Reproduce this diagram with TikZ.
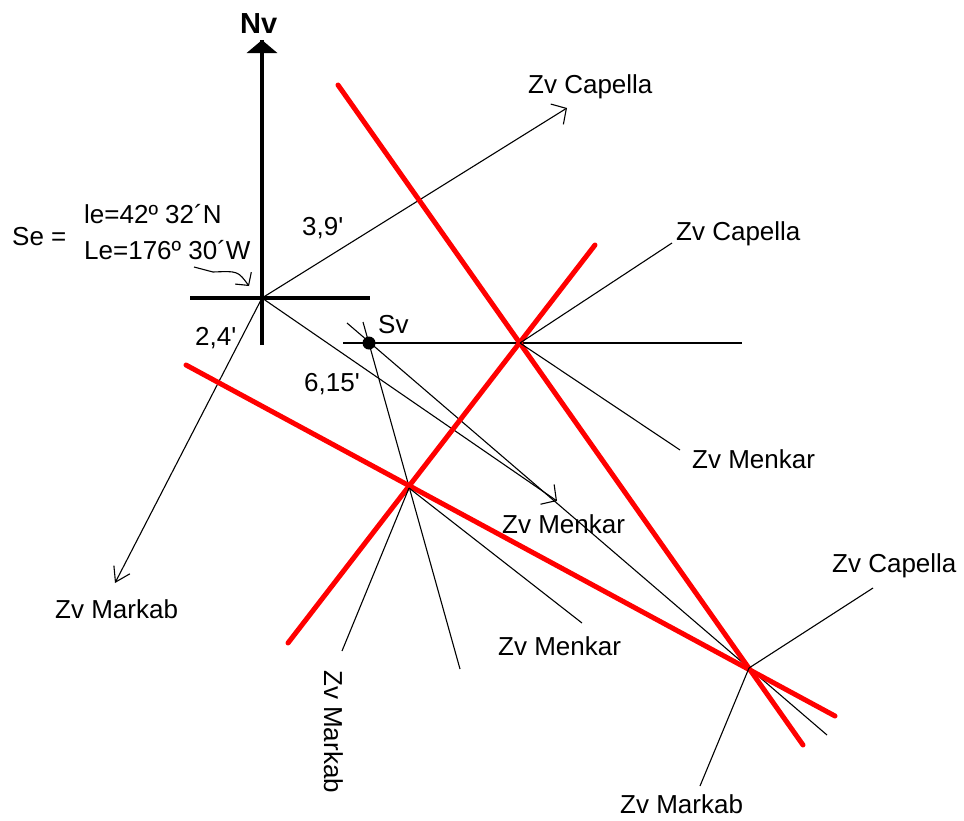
\documentclass[tikz,border=0pt]{standalone}
\usepackage{fontspec}
\setmainfont{Liberation Sans}
\usetikzlibrary{arrows.meta}

\begin{document}
\begin{tikzpicture}
  [x=1pt,y=-1pt,line join=round,
   every node/.style={font=\fontsize{26}{28}\selectfont,inner sep=0pt,anchor=base west},
   fine/.style={line width=1.1pt},
   axis/.style={line width=4pt},
   lop/.style={red,line width=5pt,line cap=round},
   barb/.style={fine,arrows={-{Straight Barb[length=11pt,width=24pt]}}}]
  \useasboundingbox[fill=white] (0,0) rectangle (964,820);

  % estimated position and the star directions from it
  \coordinate (se) at (262,298);
  \coordinate (nv) at (262,40);
  \coordinate (sb) at (262,345);
  \coordinate (sw) at (190,298);
  \coordinate (sf) at (370,298);
  \coordinate (cap) at (567,108);
  \coordinate (men) at (557,501);
  \coordinate (mar) at (115,583);

  \draw[axis] (sb) -- (nv);
  \draw[line width=4pt,arrows={-{Triangle[width=30pt,length=13pt]}}] (se) -- (nv);
  \draw[axis] (sw) -- (sf);
  \draw[barb] (se) to (cap);
  \draw[barb] (se) to (men);
  \draw[fine,arrows={-{Straight Barb[length=14pt,width=18pt]}}] (se) to (mar);

  \coordinate (ara) at (194,267);
  \coordinate (arb) at (213,272);
  \coordinate (arc) at (249,286);
  \draw[fine,arrows={-{Straight Barb[length=9pt,width=20pt]}}] (ara) -- (arb) .. controls (238,271) .. (arc);

  % observed position
  \coordinate (sv) at (369,343);
  \coordinate (hw) at (343,343);
  \coordinate (he) at (742,343);
  \coordinate (sva) at (347,323);
  \coordinate (svb) at (827,735);
  \coordinate (svc) at (363,322);
  \coordinate (svd) at (460,669);
  \draw[fine] (hw) -- (he);
  \draw[fine] (sva) -- (svb);
  \draw[fine] (svc) -- (svd);
  \fill (sv) circle (6.5pt);

  % lines of position
  \coordinate (p1) at (520,343);
  \coordinate (p2) at (409,488);
  \coordinate (p3) at (749,668);
  \draw[lop] (338,85) -- (803,745);
  \draw[lop] (595,245) -- (288,643);
  \draw[lop] (186,365) -- (835,716);

  \coordinate (c1) at (672,243);
  \coordinate (m1) at (680,450);
  \coordinate (k2) at (342,651);
  \coordinate (m2) at (582,623);
  \coordinate (c3) at (873,588);
  \coordinate (k3) at (700,786);
  \draw[fine] (p1) -- (c1);
  \draw[fine] (p1) -- (m1);
  \draw[fine] (p2) -- (k2);
  \draw[fine] (p2) -- (m2);
  \draw[fine] (p3) -- (c3);
  \draw[fine] (p3) -- (k3);

  % labels
  \node[font=\bfseries\fontsize{29}{30}\selectfont] (nvl) at (240,33) {Nv};
  \node (sel) at (12,245) {Se =};
  \node (lat) at (84,223) {le=42º 32´N};
  \node (lon) at (84,259) {Le=176º 30´W};
  \node (d39) at (302,235) {3,9\textquotesingle};
  \node (d24) at (195,345) {2,4\textquotesingle};
  \node (d615) at (304,391) {6,15\textquotesingle};
  \node (svl) at (378,333) {Sv};
  \node (capa) at (528,93) {Zv Capella};
  \node (capb) at (676,240) {Zv Capella};
  \node (capc) at (832,572) {Zv Capella};
  \node (mena) at (502,533) {Zv Menkar};
  \node (menb) at (692,468) {Zv Menkar};
  \node (menc) at (498,655) {Zv Menkar};
  \node (mara) at (55,618) {Zv Markab};
  \node[rotate=-90] (marb) at (324,670) {Zv Markab};
  \node (marc) at (620,813) {Zv Markab};
\end{tikzpicture}
\end{document}
